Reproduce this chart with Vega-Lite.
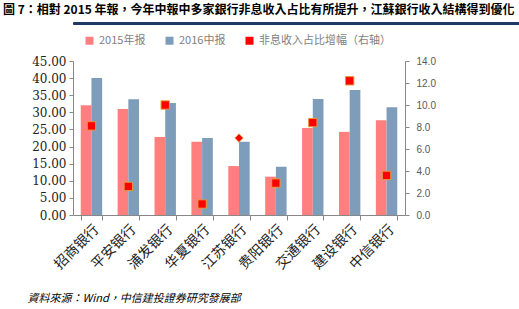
{
  "$schema": "https://vega.github.io/schema/vega-lite/v6.json",
  "padding": {"left": 3, "top": 3, "right": 0, "bottom": 0},
  "background": "white",
  "title": {"text": "圖 7：相對 2015 年報，今年中報中多家銀行非息收入占比有所提升，江蘇銀行收入結構得到優化", "anchor": "start", "fontSize": 12, "font": "Noto Sans CJK TC", "fontWeight": "bold", "color": "#000000", "offset": 5},
  "spacing": 10,
  "align": "none",
  "resolve": {"scale": {"color": "independent"}, "legend": {"color": "independent"}},
  "config": {"view": {"stroke": null}},
  "vconcat": [
    {
      "width": 516,
      "height": 2,
      "view": {"fill": "#1F3864", "stroke": "#1F3864", "strokeWidth": 1},
      "data": {"values": [{"end": 1}]},
      "mark": {"type": "bar", "color": "#1F3864"},
      "encoding": {
        "x": {"field": "end", "type": "quantitative", "scale": {"domain": [0, 1]}, "axis": null}
      }
    },
    {
      "width": 332,
      "height": 154,
      "data": {"values": [
        {"bank": "招商银行", "2015年报": 32.1, "2016中报": 40.0, "incr": 8.1},
        {"bank": "平安银行", "2015年报": 31.0, "2016中报": 33.8, "incr": 2.6},
        {"bank": "浦发银行", "2015年报": 22.8, "2016中报": 32.7, "incr": 10.0},
        {"bank": "华夏银行", "2015年报": 21.4, "2016中报": 22.5, "incr": 1.0},
        {"bank": "江苏银行", "2015年报": 14.3, "2016中报": 21.4, "incr": 7.0},
        {"bank": "贵阳银行", "2015年报": 11.2, "2016中报": 14.1, "incr": 2.9},
        {"bank": "交通银行", "2015年报": 25.4, "2016中报": 33.9, "incr": 8.4},
        {"bank": "建设银行", "2015年报": 24.3, "2016中报": 36.5, "incr": 12.2},
        {"bank": "中信银行", "2015年报": 27.7, "2016中报": 31.5, "incr": 3.6}
      ]},
      "layer": [
        {
          "transform": [{"fold": ["2015年报", "2016中报"], "as": ["series", "value"]}],
          "mark": {"type": "bar"},
          "encoding": {
            "x": {"field": "bank", "type": "nominal", "sort": null,
              "scale": {"paddingInner": 0.42, "paddingOuter": 0.21},
              "axis": {"title": "資料來源：Wind，中信建投證券研究發展部", "titleAnchor": "start", "titleAlign": "left", "titleBaseline": "top", "titleX": -46, "titleY": 77,
                "titleFont": "Noto Sans CJK TC", "titleFontStyle": "italic", "titleFontSize": 11, "titleFontWeight": "normal", "titleColor": "#000000",
                "labelAngle": -45, "labelFont": "Noto Sans CJK SC", "labelFontSize": 14, "labelColor": "#222222", "labelPadding": 2,
                "domainColor": "#888888", "tickColor": "#888888", "tickBand": "extent", "tickSize": 5}},
            "xOffset": {"field": "series", "type": "nominal", "sort": ["2015年报", "2016中报"]},
            "y": {"field": "value", "type": "quantitative", "scale": {"domain": [0, 45], "nice": false},
              "axis": {"values": [0, 5, 10, 15, 20, 25, 30, 35, 40, 45], "format": ".2f", "title": null, "grid": false,
                "labelFont": "DejaVu Serif", "labelFontSize": 12, "labelColor": "#222222", "labelPadding": 3,
                "domainColor": "#888888", "tickColor": "#888888", "tickSize": 4, "minExtent": 70}},
            "color": {"field": "series", "type": "nominal",
              "scale": {"domain": ["2015年报", "2016中报", "非息收入占比增幅（右轴）"], "range": ["#FF7F7F", "#7E9DBB", "#FF0000"]},
              "legend": {"orient": "top", "offset": 15, "direction": "horizontal", "title": null, "padding": 0,
                "symbolType": "square", "symbolSize": 64, "symbolStrokeWidth": 0, "symbolOffset": 11,
                "labelFont": "Noto Sans CJK SC", "labelFontSize": 11, "labelColor": "#7F7F7F", "columnPadding": 7, "labelOffset": 4}}
          }
        },
        {
          "mark": {"type": "point", "filled": true, "opacity": 1, "stroke": "#E59A3C", "strokeWidth": 1, "size": 70},
          "encoding": {
            "x": {"field": "bank", "type": "nominal", "sort": null},
            "y": {"field": "incr", "type": "quantitative", "scale": {"domain": [0, 14], "nice": false},
              "axis": {"orient": "right", "values": [0, 2, 4, 6, 8, 10, 12, 14], "format": ".1f", "title": null, "grid": false,
                "labelFont": "Liberation Sans", "labelFontSize": 10, "labelColor": "#595959", "labelPadding": 7,
                "domainColor": "#888888", "tickColor": "#888888", "tickSize": 4}},
            "color": {"datum": "非息收入占比增幅（右轴）"},
            "shape": {"condition": {"test": "datum.bank === '江苏银行'", "value": "diamond"}, "value": "square"}
          }
        }
      ],
      "resolve": {"scale": {"y": "independent"}}
    }
  ]
}
